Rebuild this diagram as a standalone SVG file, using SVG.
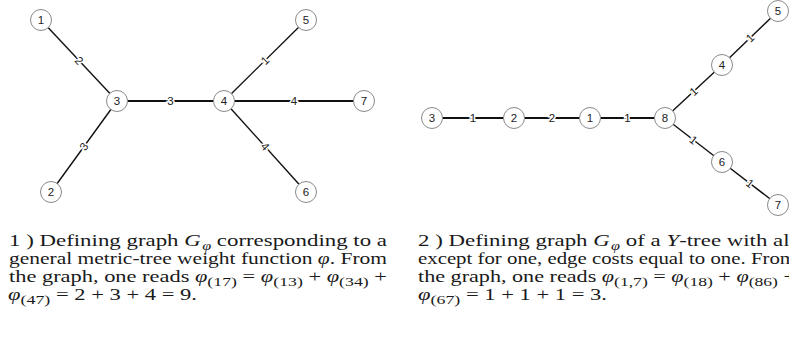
<svg xmlns="http://www.w3.org/2000/svg" width="789" height="337" viewBox="0 0 789 337">
<style>
.node circle{fill:#fff;stroke:#8a8a8a;stroke-width:1}
.node text{font-family:"Liberation Sans",Arial,sans-serif;font-size:11.5px;fill:#222;text-anchor:middle;dominant-baseline:central}
.edges line{stroke:#111;stroke-width:1.4}
.edges line.h{stroke-width:2}
.elabel{font-family:"Liberation Sans",Arial,sans-serif;font-size:11.5px;fill:#222;text-anchor:middle;dominant-baseline:central;stroke:#fff;stroke-width:3;paint-order:stroke}
.cap{font-family:"Liberation Serif","Times New Roman",serif;font-size:17px;fill:#1a1a1a}
.it{font-style:italic}
.sub{font-size:13.5px}
.gs{font-size:12px;font-style:italic}
</style>
<rect width="789" height="337" fill="#fff"/>
<g class="edges" id="edges-left">
<line x1="41" y1="20" x2="117" y2="101"/>
<line x1="117" y1="101" x2="51" y2="192"/>
<line class="h" x1="117" y1="101" x2="224" y2="101"/>
<line x1="224" y1="101" x2="306" y2="20"/>
<line class="h" x1="224" y1="101" x2="364" y2="101"/>
<line x1="224" y1="101" x2="306" y2="192"/>
<text class="elabel" transform="translate(79,60.5) rotate(46.8)">2</text>
<text class="elabel" transform="translate(84,146.5) rotate(-54)">3</text>
<text class="elabel" x="170.5" y="101">3</text>
<text class="elabel" transform="translate(265,60.5) rotate(-44.7)">1</text>
<text class="elabel" x="294" y="101">4</text>
<text class="elabel" transform="translate(265,146.5) rotate(48)">4</text>
</g>
<g id="n1" class="node"><circle cx="41" cy="20" r="10.5"/><text x="41" y="20">1</text></g>
<g id="n2" class="node"><circle cx="51" cy="192" r="10.5"/><text x="51" y="192">2</text></g>
<g id="n3" class="node"><circle cx="117" cy="101" r="10.5"/><text x="117" y="101">3</text></g>
<g id="n4" class="node"><circle cx="224" cy="101" r="10.5"/><text x="224" y="101">4</text></g>
<g id="n5" class="node"><circle cx="306" cy="20" r="10.5"/><text x="306" y="20">5</text></g>
<g id="n6" class="node"><circle cx="306" cy="192" r="10.5"/><text x="306" y="192">6</text></g>
<g id="n7" class="node"><circle cx="364" cy="101" r="10.5"/><text x="364" y="101">7</text></g>

<g class="edges" id="edges-right">
<line class="h" x1="432" y1="118" x2="514" y2="118"/>
<line class="h" x1="514" y1="118" x2="590" y2="118"/>
<line class="h" x1="590" y1="118" x2="665" y2="118"/>
<line x1="665" y1="118" x2="722" y2="65"/>
<line x1="722" y1="65" x2="778" y2="11"/>
<line x1="665" y1="118" x2="722" y2="162"/>
<line x1="722" y1="162" x2="778" y2="205"/>
<text class="elabel" x="473" y="118">1</text>
<text class="elabel" x="552" y="118">2</text>
<text class="elabel" x="627.5" y="118">1</text>
<text class="elabel" transform="translate(693.5,91.5) rotate(-43)">1</text>
<text class="elabel" transform="translate(750,38) rotate(-44)">1</text>
<text class="elabel" transform="translate(693.5,140) rotate(37.7)">1</text>
<text class="elabel" transform="translate(750,183.5) rotate(37.5)">1</text>
</g>
<g id="m3" class="node"><circle cx="432" cy="118" r="10.5"/><text x="432" y="118">3</text></g>
<g id="m2" class="node"><circle cx="514" cy="118" r="10.5"/><text x="514" y="118">2</text></g>
<g id="m1" class="node"><circle cx="590" cy="118" r="10.5"/><text x="590" y="118">1</text></g>
<g id="m8" class="node"><circle cx="665" cy="118" r="10.5"/><text x="665" y="118">8</text></g>
<g id="m4" class="node"><circle cx="722" cy="65" r="10.5"/><text x="722" y="65">4</text></g>
<g id="m5" class="node"><circle cx="778" cy="11" r="10.5"/><text x="778" y="11">5</text></g>
<g id="m6" class="node"><circle cx="722" cy="162" r="10.5"/><text x="722" y="162">6</text></g>
<g id="m7" class="node"><circle cx="778" cy="205" r="10.5"/><text x="778" y="205">7</text></g>

<g id="caption-left" class="cap">
<text x="9" y="245.5" textLength="378" lengthAdjust="spacingAndGlyphs">1 ) Defining graph <tspan class="it">G</tspan><tspan class="gs" dx="1" dy="4">φ</tspan><tspan dy="-4"> corresponding to a</tspan></text>
<text x="9" y="263.5" textLength="378" lengthAdjust="spacingAndGlyphs">general metric-tree weight function <tspan class="it">φ</tspan>. From</text>
<text x="9" y="281.5" textLength="378" lengthAdjust="spacingAndGlyphs">the graph, one reads <tspan class="it">φ</tspan><tspan class="sub" dy="4">(17)</tspan><tspan dy="-4"> = </tspan><tspan class="it">φ</tspan><tspan class="sub" dy="4">(13)</tspan><tspan dy="-4"> + </tspan><tspan class="it">φ</tspan><tspan class="sub" dy="4">(34)</tspan><tspan dy="-4"> +</tspan></text>
<text x="8" y="299.5" textLength="189" lengthAdjust="spacingAndGlyphs"><tspan class="it">φ</tspan><tspan class="sub" dy="4">(47)</tspan><tspan dy="-4"> = 2 + 3 + 4 = 9.</tspan></text>
</g>
<g id="caption-right" class="cap">
<text x="418" y="245.5" textLength="378" lengthAdjust="spacingAndGlyphs">2 ) Defining graph <tspan class="it">G</tspan><tspan class="gs" dx="1" dy="4">φ</tspan><tspan dy="-4"> of a </tspan><tspan class="it">Y</tspan>-tree with all</text>
<text x="418" y="263.5" textLength="378" lengthAdjust="spacingAndGlyphs">except for one, edge costs equal to one. From</text>
<text x="418" y="281.5" textLength="378" lengthAdjust="spacingAndGlyphs">the graph, one reads <tspan class="it">φ</tspan><tspan class="sub" dy="4">(1,7)</tspan><tspan dy="-4"> = </tspan><tspan class="it">φ</tspan><tspan class="sub" dy="4">(18)</tspan><tspan dy="-4"> + </tspan><tspan class="it">φ</tspan><tspan class="sub" dy="4">(86)</tspan><tspan dy="-4"> +</tspan></text>
<text x="418" y="299.5" textLength="189" lengthAdjust="spacingAndGlyphs"><tspan class="it">φ</tspan><tspan class="sub" dy="4">(67)</tspan><tspan dy="-4"> = 1 + 1 + 1 = 3.</tspan></text>
</g>
</svg>
